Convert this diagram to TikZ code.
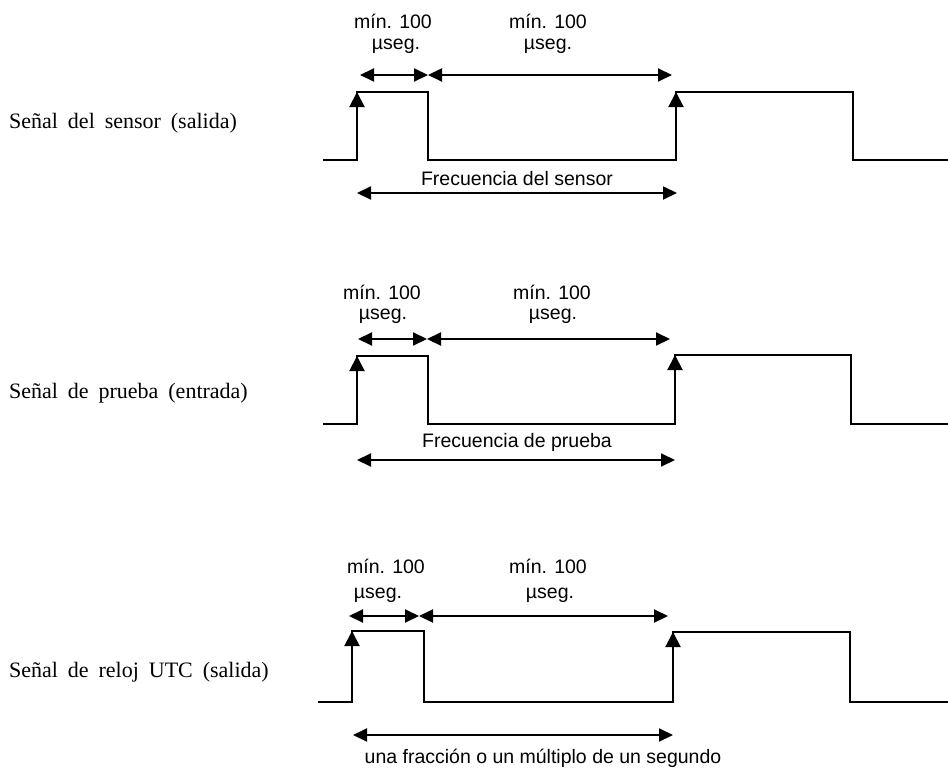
\documentclass[tikz,border=0pt]{standalone}
\usepackage{fontspec}
\setmainfont{Liberation Serif}[WordSpace={1.8}]
\newfontfamily\sansf{Liberation Sans}
\usetikzlibrary{arrows.meta}
\begin{document}
\begin{tikzpicture}[x=1pt,y=-1pt,
  wave/.style={line width=2pt, line join=miter},
  edgearrow/.style={line width=2pt, -{Triangle[length=15pt,width=15pt]}},
  dim/.style={line width=2pt, {Triangle[length=14pt,width=13pt]}-{Triangle[length=14pt,width=13pt]}},
  lbl/.style={font=\sansf\fontsize{19.5}{22}\selectfont, inner sep=0pt, anchor=base},
  sig/.style={font=\fontsize{22}{25}\selectfont, inner sep=0pt, anchor=base west}]
\useasboundingbox (0,0) rectangle (948,771);

% ---------- Panel 1 ----------
\node[sig] (s1) at (9,128) {Señal del sensor (salida)};
\draw[wave] (323,160) -- (357,160) -- (357,92) -- (428,92) -- (428,160) -- (676,160) -- (676,92) -- (853,92) -- (853,160) -- (948,160);
\coordinate (r1a) at (357,135); \coordinate (r1at) at (357,92);
\coordinate (r1b) at (676,135); \coordinate (r1bt) at (676,92);
\draw[edgearrow] (r1a) -- (r1at);
\draw[edgearrow] (r1b) -- (r1bt);
\coordinate (d1a) at (360,75); \coordinate (d1b) at (428,75); \coordinate (d1c) at (672,75);
\draw[dim] (d1a) -- (d1b);
\draw[dim] (d1b) -- (d1c);
\node[lbl] (m1a) at (393,28) {mín. 100};
\node[lbl] (u1a) at (396,49) {µseg.};
\node[lbl] (m1b) at (548,28) {mín. 100};
\node[lbl] (u1b) at (548,49) {µseg.};
\node[lbl] (f1) at (517,185) {Frecuencia del sensor};
\coordinate (f1a) at (357,193); \coordinate (f1b) at (677,193);
\draw[dim] (f1a) -- (f1b);

% ---------- Panel 2 ----------
\node[sig] (s2) at (9,398) {Señal de prueba (entrada)};
\draw[wave] (323,424) -- (357,424) -- (357,356) -- (428,356) -- (428,424) -- (675,424) -- (675,355) -- (851,355) -- (851,424) -- (948,424);
\coordinate (r2a) at (357,399); \coordinate (r2at) at (357,356);
\coordinate (r2b) at (675,399); \coordinate (r2bt) at (675,355);
\draw[edgearrow] (r2a) -- (r2at);
\draw[edgearrow] (r2b) -- (r2bt);
\coordinate (d2a) at (358,339); \coordinate (d2b) at (427,339); \coordinate (d2c) at (670,339);
\draw[dim] (d2a) -- (d2b);
\draw[dim] (d2b) -- (d2c);
\node[lbl] (m2a) at (382,299) {mín. 100};
\node[lbl] (u2a) at (383,319) {µseg.};
\node[lbl] (m2b) at (552,299) {mín. 100};
\node[lbl] (u2b) at (553,319) {µseg.};
\node[lbl] (f2) at (517,447) {Frecuencia de prueba};
\coordinate (f2a) at (357,460); \coordinate (f2b) at (675,460);
\draw[dim] (f2a) -- (f2b);

% ---------- Panel 3 ----------
\node[sig] (s3) at (9,677) {Señal de reloj UTC (salida)};
\draw[wave] (318,702) -- (352,702) -- (352,631) -- (424,631) -- (424,702) -- (673,702) -- (673,632) -- (850,632) -- (850,702) -- (948,702);
\coordinate (r3a) at (352,676); \coordinate (r3at) at (352,631);
\coordinate (r3b) at (673,676); \coordinate (r3bt) at (673,632);
\draw[edgearrow] (r3a) -- (r3at);
\draw[edgearrow] (r3b) -- (r3bt);
\coordinate (d3a) at (349,616); \coordinate (d3b) at (419,616); \coordinate (d3c) at (668,616);
\draw[dim] (d3a) -- (d3b);
\draw[dim] (d3b) -- (d3c);
\node[lbl] (m3a) at (386,573) {mín. 100};
\node[lbl] (u3a) at (378,598) {µseg.};
\node[lbl] (m3b) at (548,573) {mín. 100};
\node[lbl] (u3b) at (550,598) {µseg.};
\coordinate (f3a) at (353,735); \coordinate (f3b) at (673,735);
\draw[dim] (f3a) -- (f3b);
\node[lbl] (f3) at (543,763) {una fracción o un múltiplo de un segundo};
\end{tikzpicture}
\end{document}
